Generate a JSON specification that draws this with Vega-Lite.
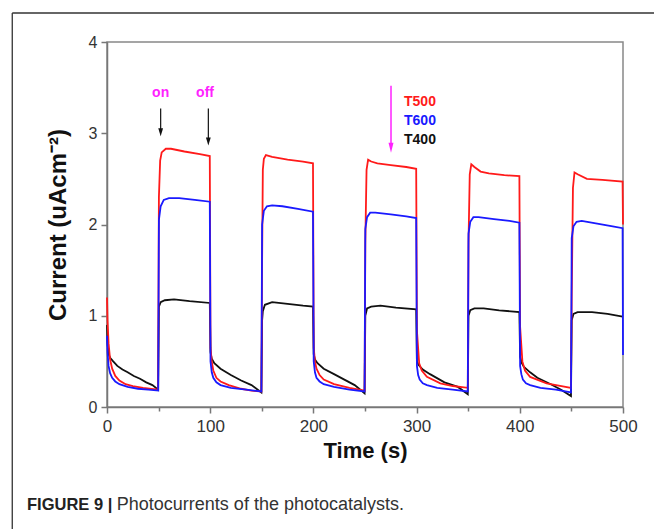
{
"$schema":"https://vega.github.io/schema/vega-lite/v6.json",
"width":516,"height":365,
"autosize":{"type":"none"},
"padding":{"left":107,"top":42,"right":31,"bottom":122},
"background":"white",
"config":{"view":{"stroke":"#888","strokeWidth":1.5},"font":"Liberation Sans"},
"datasets":{
"curves":[
{"s":"T500","t":0,"v":1.2},{"s":"T500","t":0.5,"v":0.95},{"s":"T500","t":1.5,"v":0.7},{"s":"T500","t":3,"v":0.52},{"s":"T500","t":5,"v":0.42},{"s":"T500","t":8,"v":0.34},{"s":"T500","t":12,"v":0.29},{"s":"T500","t":18,"v":0.25},{"s":"T500","t":25,"v":0.23},{"s":"T500","t":35,"v":0.21},{"s":"T500","t":49.5,"v":0.19},
{"s":"T500","t":50.3,"v":2.3},{"s":"T500","t":51.5,"v":2.7},{"s":"T500","t":53,"v":2.79},{"s":"T500","t":57,"v":2.83},{"s":"T500","t":62,"v":2.83},{"s":"T500","t":75,"v":2.8},{"s":"T500","t":90,"v":2.77},{"s":"T500","t":99.6,"v":2.75},
{"s":"T500","t":100.3,"v":0.65},{"s":"T500","t":101.5,"v":0.5},{"s":"T500","t":103,"v":0.4},{"s":"T500","t":106,"v":0.32},{"s":"T500","t":110,"v":0.28},{"s":"T500","t":118,"v":0.24},{"s":"T500","t":130,"v":0.2},{"s":"T500","t":140,"v":0.18},{"s":"T500","t":149.6,"v":0.17},
{"s":"T500","t":150.3,"v":1.6},{"s":"T500","t":151,"v":2.6},{"s":"T500","t":152,"v":2.72},{"s":"T500","t":154,"v":2.76},{"s":"T500","t":160,"v":2.74},{"s":"T500","t":175,"v":2.71},{"s":"T500","t":190,"v":2.69},{"s":"T500","t":199.6,"v":2.67},
{"s":"T500","t":200.3,"v":0.65},{"s":"T500","t":201.5,"v":0.5},{"s":"T500","t":203,"v":0.42},{"s":"T500","t":206,"v":0.35},{"s":"T500","t":210,"v":0.3},{"s":"T500","t":220,"v":0.25},{"s":"T500","t":235,"v":0.21},{"s":"T500","t":249.6,"v":0.18},
{"s":"T500","t":250.3,"v":1.8},{"s":"T500","t":251.5,"v":2.6},{"s":"T500","t":253,"v":2.71},{"s":"T500","t":256,"v":2.69},{"s":"T500","t":262,"v":2.67},{"s":"T500","t":275,"v":2.65},{"s":"T500","t":290,"v":2.63},{"s":"T500","t":299.6,"v":2.61},
{"s":"T500","t":300.3,"v":0.84},{"s":"T500","t":302.5,"v":0.48},{"s":"T500","t":305,"v":0.4},{"s":"T500","t":310,"v":0.33},{"s":"T500","t":323,"v":0.26},{"s":"T500","t":335,"v":0.23},{"s":"T500","t":349.6,"v":0.21},
{"s":"T500","t":350.3,"v":1.8},{"s":"T500","t":351.5,"v":2.55},{"s":"T500","t":353,"v":2.66},{"s":"T500","t":356,"v":2.63},{"s":"T500","t":362,"v":2.58},{"s":"T500","t":370,"v":2.56},{"s":"T500","t":385,"v":2.54},{"s":"T500","t":399.6,"v":2.53},
{"s":"T500","t":400.3,"v":0.88},{"s":"T500","t":402.5,"v":0.5},{"s":"T500","t":405,"v":0.4},{"s":"T500","t":410,"v":0.33},{"s":"T500","t":426,"v":0.26},{"s":"T500","t":449.6,"v":0.21},
{"s":"T500","t":450.3,"v":1.2},{"s":"T500","t":451.5,"v":2.4},{"s":"T500","t":453,"v":2.57},{"s":"T500","t":456,"v":2.55},{"s":"T500","t":465,"v":2.5},{"s":"T500","t":480,"v":2.49},{"s":"T500","t":499.6,"v":2.47},{"s":"T500","t":500,"v":2.0},
{"s":"T600","t":0,"v":0.78},{"s":"T600","t":0.5,"v":0.6},{"s":"T600","t":1.5,"v":0.45},{"s":"T600","t":3,"v":0.37},{"s":"T600","t":5,"v":0.32},{"s":"T600","t":8,"v":0.28},{"s":"T600","t":12,"v":0.25},{"s":"T600","t":20,"v":0.22},{"s":"T600","t":30,"v":0.2},{"s":"T600","t":40,"v":0.19},{"s":"T600","t":49.6,"v":0.18},
{"s":"T600","t":50.3,"v":2.05},{"s":"T600","t":52,"v":2.2},{"s":"T600","t":55,"v":2.27},{"s":"T600","t":60,"v":2.29},{"s":"T600","t":70,"v":2.29},{"s":"T600","t":85,"v":2.27},{"s":"T600","t":99.6,"v":2.25},
{"s":"T600","t":100.3,"v":0.5},{"s":"T600","t":101.5,"v":0.38},{"s":"T600","t":103,"v":0.32},{"s":"T600","t":106,"v":0.27},{"s":"T600","t":110,"v":0.24},{"s":"T600","t":120,"v":0.21},{"s":"T600","t":135,"v":0.19},{"s":"T600","t":149.6,"v":0.17},
{"s":"T600","t":150.3,"v":2.0},{"s":"T600","t":152,"v":2.15},{"s":"T600","t":155,"v":2.2},{"s":"T600","t":160,"v":2.21},{"s":"T600","t":170,"v":2.2},{"s":"T600","t":185,"v":2.17},{"s":"T600","t":199.6,"v":2.14},
{"s":"T600","t":200.3,"v":0.5},{"s":"T600","t":201.5,"v":0.38},{"s":"T600","t":203,"v":0.32},{"s":"T600","t":206,"v":0.28},{"s":"T600","t":210,"v":0.25},{"s":"T600","t":220,"v":0.22},{"s":"T600","t":235,"v":0.19},{"s":"T600","t":249.6,"v":0.17},
{"s":"T600","t":250.3,"v":1.95},{"s":"T600","t":252,"v":2.08},{"s":"T600","t":255,"v":2.13},{"s":"T600","t":260,"v":2.13},{"s":"T600","t":275,"v":2.11},{"s":"T600","t":290,"v":2.09},{"s":"T600","t":299.6,"v":2.07},
{"s":"T600","t":300.3,"v":0.45},{"s":"T600","t":301.5,"v":0.35},{"s":"T600","t":303,"v":0.3},{"s":"T600","t":306,"v":0.26},{"s":"T600","t":310,"v":0.24},{"s":"T600","t":320,"v":0.21},{"s":"T600","t":335,"v":0.19},{"s":"T600","t":349.6,"v":0.17},
{"s":"T600","t":350.3,"v":1.9},{"s":"T600","t":352,"v":2.03},{"s":"T600","t":355,"v":2.08},{"s":"T600","t":360,"v":2.08},{"s":"T600","t":375,"v":2.06},{"s":"T600","t":390,"v":2.04},{"s":"T600","t":399.6,"v":2.02},
{"s":"T600","t":400.3,"v":0.45},{"s":"T600","t":401.5,"v":0.36},{"s":"T600","t":403,"v":0.3},{"s":"T600","t":406,"v":0.26},{"s":"T600","t":410,"v":0.24},{"s":"T600","t":420,"v":0.21},{"s":"T600","t":435,"v":0.19},{"s":"T600","t":449.6,"v":0.16},
{"s":"T600","t":450.3,"v":1.85},{"s":"T600","t":452,"v":1.98},{"s":"T600","t":455,"v":2.03},{"s":"T600","t":460,"v":2.04},{"s":"T600","t":475,"v":2.01},{"s":"T600","t":490,"v":1.98},{"s":"T600","t":499.6,"v":1.96},{"s":"T600","t":500,"v":0.57},
{"s":"T400","t":0,"v":0.9},{"s":"T400","t":0.5,"v":0.7},{"s":"T400","t":1.5,"v":0.58},{"s":"T400","t":3,"v":0.54},{"s":"T400","t":6,"v":0.5},{"s":"T400","t":10,"v":0.45},{"s":"T400","t":15,"v":0.41},{"s":"T400","t":20,"v":0.38},{"s":"T400","t":26,"v":0.34},{"s":"T400","t":32,"v":0.31},{"s":"T400","t":38,"v":0.27},{"s":"T400","t":44,"v":0.24},{"s":"T400","t":49.6,"v":0.19},
{"s":"T400","t":50.3,"v":1.1},{"s":"T400","t":52,"v":1.15},{"s":"T400","t":56,"v":1.17},{"s":"T400","t":65,"v":1.18},{"s":"T400","t":80,"v":1.16},{"s":"T400","t":99.6,"v":1.14},
{"s":"T400","t":100.3,"v":0.6},{"s":"T400","t":101.5,"v":0.53},{"s":"T400","t":104,"v":0.48},{"s":"T400","t":110,"v":0.42},{"s":"T400","t":120,"v":0.35},{"s":"T400","t":130,"v":0.29},{"s":"T400","t":140,"v":0.24},{"s":"T400","t":149.6,"v":0.16},
{"s":"T400","t":150.3,"v":0.95},{"s":"T400","t":151,"v":1.05},{"s":"T400","t":153,"v":1.12},{"s":"T400","t":160,"v":1.15},{"s":"T400","t":175,"v":1.13},{"s":"T400","t":190,"v":1.11},{"s":"T400","t":199.6,"v":1.1},
{"s":"T400","t":200.3,"v":0.58},{"s":"T400","t":201.5,"v":0.52},{"s":"T400","t":204,"v":0.48},{"s":"T400","t":210,"v":0.42},{"s":"T400","t":220,"v":0.36},{"s":"T400","t":230,"v":0.3},{"s":"T400","t":240,"v":0.24},{"s":"T400","t":249.6,"v":0.15},
{"s":"T400","t":250.3,"v":1.0},{"s":"T400","t":252,"v":1.08},{"s":"T400","t":256,"v":1.1},{"s":"T400","t":265,"v":1.11},{"s":"T400","t":280,"v":1.09},{"s":"T400","t":299.6,"v":1.07},
{"s":"T400","t":300.3,"v":0.5},{"s":"T400","t":302,"v":0.46},{"s":"T400","t":306,"v":0.41},{"s":"T400","t":313,"v":0.36},{"s":"T400","t":327,"v":0.27},{"s":"T400","t":340,"v":0.22},{"s":"T400","t":349.6,"v":0.14},
{"s":"T400","t":350.3,"v":1.0},{"s":"T400","t":352,"v":1.06},{"s":"T400","t":356,"v":1.08},{"s":"T400","t":365,"v":1.08},{"s":"T400","t":380,"v":1.06},{"s":"T400","t":399.6,"v":1.04},
{"s":"T400","t":400.3,"v":0.55},{"s":"T400","t":402,"v":0.48},{"s":"T400","t":404,"v":0.44},{"s":"T400","t":410,"v":0.38},{"s":"T400","t":417,"v":0.32},{"s":"T400","t":430,"v":0.25},{"s":"T400","t":440,"v":0.19},{"s":"T400","t":449.6,"v":0.12},
{"s":"T400","t":450.3,"v":0.95},{"s":"T400","t":452,"v":1.02},{"s":"T400","t":456,"v":1.04},{"s":"T400","t":470,"v":1.04},{"s":"T400","t":485,"v":1.02},{"s":"T400","t":499.6,"v":0.99},{"s":"T400","t":500,"v":0.99}
],
"onoff":[{"label":"on","t":52,"v":3.445},{"label":"off","t":95,"v":3.445}],
"blackShafts":[{"t":52,"v1":3.27,"v2":3.01},{"t":98.2,"v1":3.27,"v2":2.91}],
"blackHeads":[{"t":52,"v":3.01},{"t":98.2,"v":2.91}],
"magShaft":[{"t":275.2,"v1":3.52,"v2":2.84}],
"magHead":[{"t":275.2,"v":2.84}],
"legendText":[{"s":"T500","t":287.8,"v":3.342},{"s":"T600","t":287.8,"v":3.134},{"s":"T400","t":287.8,"v":2.923}],
"frame":[{"x1":-91.8,"x2":535,"y1":4.318,"y2":4.318},{"x1":-91.8,"x2":-91.8,"y1":4.318,"y2":-1.4}],
"capBold":[{"label":"FIGURE 9 |","t":-77.5,"v":-1.077}],
"capText":[{"label":"Photocurrents of the photocatalysts.","t":9.5,"v":-1.077}]
},
"layer":[
{"data":{"name":"curves"},"transform":[{"filter":"datum.s==='T400'"}],
 "mark":{"type":"line","color":"#111","strokeWidth":1.8},
 "encoding":{
  "x":{"field":"t","type":"quantitative","scale":{"domain":[0,500],"nice":false},
   "axis":{"title":"Time (s)","values":[0,50,100,150,200,250,300,350,400,450,500],"format":"d","labelExpr":"datum.value % 100 === 0 ? datum.label : ''",
   "grid":false,"labelFlush":false,"domainColor":"#777","domainWidth":1.5,"tickColor":"#777","tickWidth":1.5,
   "tickSize":{"condition":{"test":"datum.value % 100 !== 0","value":4},"value":6},
   "labelFontSize":17,"labelColor":"#333","labelPadding":5,"labelFont":"Liberation Sans",
   "titleFontSize":22,"titleFontWeight":"bold","titleColor":"#111","titlePadding":6,"titleFont":"Liberation Sans"}},
  "y":{"field":"v","type":"quantitative","scale":{"domain":[0,4],"nice":false},
   "axis":{"title":"Current (uAcm⁻²)","values":[0,1,2,3,4],"format":"d","grid":false,"labelFlush":false,"domainColor":"#777","domainWidth":1.5,"tickColor":"#777","tickWidth":1.5,"tickSize":6,
   "labelFontSize":16,"labelColor":"#333","labelPadding":4,"labelFont":"Liberation Sans",
   "titleFontSize":24,"titleFontWeight":"bold","titleColor":"#111","titlePadding":18,"titleFont":"Liberation Sans"}}}},
{"data":{"name":"curves"},"transform":[{"filter":"datum.s==='T500'"}],
 "mark":{"type":"line","color":"#ff1a1a","strokeWidth":1.8},
 "encoding":{"x":{"field":"t","type":"quantitative","scale":{"domain":[0,500],"nice":false}},"y":{"field":"v","type":"quantitative","scale":{"domain":[0,4],"nice":false}}}},
{"data":{"name":"curves"},"transform":[{"filter":"datum.s==='T600'"}],
 "mark":{"type":"line","color":"#1a1aff","strokeWidth":1.8},
 "encoding":{"x":{"field":"t","type":"quantitative","scale":{"domain":[0,500],"nice":false}},"y":{"field":"v","type":"quantitative","scale":{"domain":[0,4],"nice":false}}}},
{"data":{"name":"frame"},"mark":{"type":"rule","color":"#333","strokeWidth":1.3},
 "encoding":{"x":{"field":"x1","type":"quantitative","scale":{"domain":[0,500],"nice":false}},"x2":{"field":"x2"},
 "y":{"field":"y1","type":"quantitative","scale":{"domain":[0,4],"nice":false}},"y2":{"field":"y2"}}},
{"data":{"name":"onoff"},"mark":{"type":"text","color":"#ff22ff","fontWeight":"bold","fontSize":14,"font":"Liberation Sans","align":"center","baseline":"middle"},
 "encoding":{"x":{"field":"t","type":"quantitative"},"y":{"field":"v","type":"quantitative"},"text":{"field":"label"}}},
{"data":{"name":"blackShafts"},"mark":{"type":"rule","color":"#111","strokeWidth":1.2},
 "encoding":{"x":{"field":"t","type":"quantitative"},"y":{"field":"v1","type":"quantitative"},"y2":{"field":"v2"}}},
{"data":{"name":"blackHeads"},"mark":{"type":"point","shape":"M-0.6,-1L0.6,-1L0,1Z","filled":true,"color":"#111","size":64,"opacity":1},
 "encoding":{"x":{"field":"t","type":"quantitative"},"y":{"field":"v","type":"quantitative"}}},
{"data":{"name":"magShaft"},"mark":{"type":"rule","color":"#ff22ff","strokeWidth":1.5},
 "encoding":{"x":{"field":"t","type":"quantitative"},"y":{"field":"v1","type":"quantitative"},"y2":{"field":"v2"}}},
{"data":{"name":"magHead"},"mark":{"type":"point","shape":"M-0.5,-1L0.5,-1L0,1Z","filled":true,"color":"#ff22ff","size":100,"opacity":1},
 "encoding":{"x":{"field":"t","type":"quantitative"},"y":{"field":"v","type":"quantitative"}}},
{"data":{"name":"legendText"},"mark":{"type":"text","fontWeight":"bold","fontSize":14,"font":"Liberation Sans","align":"left","baseline":"middle"},
 "encoding":{"x":{"field":"t","type":"quantitative"},"y":{"field":"v","type":"quantitative"},"text":{"field":"s"},
  "color":{"field":"s","type":"nominal","scale":{"domain":["T500","T600","T400"],"range":["#ff1a1a","#1a1aff","#111111"]},"legend":null}}},
{"data":{"name":"capBold"},"mark":{"type":"text","fontWeight":"bold","fontSize":16.5,"font":"Liberation Sans","align":"left","baseline":"middle","color":"#222"},
 "encoding":{"x":{"field":"t","type":"quantitative"},"y":{"field":"v","type":"quantitative"},"text":{"field":"label"}}},
{"data":{"name":"capText"},"mark":{"type":"text","fontSize":18,"font":"Liberation Sans","align":"left","baseline":"middle","color":"#333"},
 "encoding":{"x":{"field":"t","type":"quantitative"},"y":{"field":"v","type":"quantitative"},"text":{"field":"label"}}}
]
}
